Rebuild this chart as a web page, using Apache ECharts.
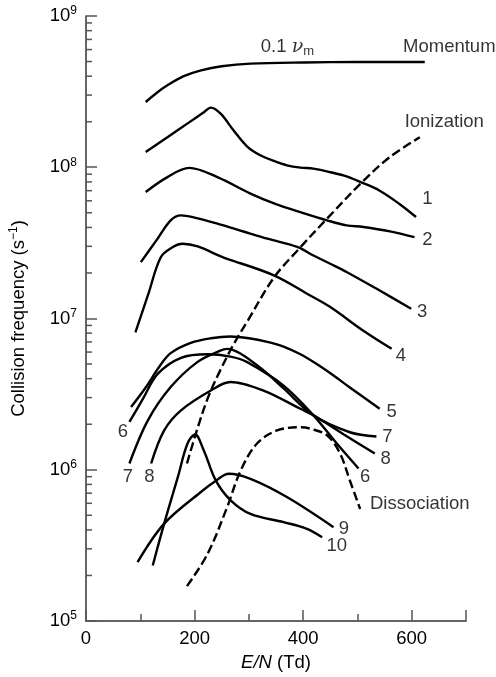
<!DOCTYPE html>
<html>
<head>
<meta charset="utf-8">
<script src="https://cdn.jsdelivr.net/npm/echarts@6/dist/echarts.min.js"></script>
<style>
  html, body { margin: 0; padding: 0; background: #fff; }
  #chart { width: 496px; height: 677px; }
</style>
</head>
<body>
<div id="chart"></div>
<script>
// ===== data: [E/N (Td), collision frequency (s^-1)] =====
var momentum = [[110,2.7e8],[130,3.1e8],[150,3.48e8],[180,4.0e8],[212,4.37e8],[250,4.65e8],[303,4.84e8],[400,4.93e8],[500,4.96e8],[624,4.96e8]];
var curve1 = [[110,1.26e8],[150,1.58e8],[190,1.98e8],[215,2.28e8],[230,2.48e8],[248,2.26e8],[272,1.75e8],[297,1.37e8],[321,1.2e8],[346,1.1e8],[370,1.03e8],[395,9.94e7],[419,9.8e7],[450,9.27e7],[480,8.7e7],[505,8.0e7],[541,7.0e7],[578,5.7e7],[608,4.69e7]];
var curve2 = [[110,6.86e7],[150,8.6e7],[190,9.9e7],[242,8.6e7],[303,6.7e7],[350,5.7e7],[395,5.05e7],[444,4.46e7],[480,4.13e7],[511,4.03e7],[560,3.77e7],[605,3.45e7]];
var curve3 = [[101,2.36e7],[130,3.3e7],[156,4.46e7],[175,4.81e7],[200,4.65e7],[242,4.24e7],[290,3.76e7],[334,3.37e7],[389,2.97e7],[419,2.61e7],[450,2.3e7],[480,2.03e7],[541,1.53e7],[599,1.16e7]];
var curve4 = [[91,8.1e6],[115,1.46e7],[138,2.55e7],[160,2.97e7],[178,3.12e7],[260,2.48e7],[346,1.93e7],[413,1.42e7],[450,1.19e7],[511,8.3e6],[563,6.3e6]];
var curve5 = [[83,2.6e6],[110,3.5e6],[135,4.8e6],[156,5.9e6],[193,6.9e6],[230,7.4e6],[266,7.6e6],[300,7.4e6],[334,7.0e6],[365,6.5e6],[395,5.8e6],[425,5.0e6],[456,4.2e6],[486,3.5e6],[541,2.53e6]];
var curve6 = [[80,2.07e6],[105,2.95e6],[132,4.3e6],[175,5.5e6],[224,5.8e6],[266,5.6e6],[297,5.15e6],[364,3.6e6],[419,2.29e6],[462,1.49e6],[502,1.02e6]];
var curve7 = [[80,1.1e6],[114,2.12e6],[156,3.52e6],[205,5.15e6],[245,6.08e6],[260,6.3e6],[285,5.85e6],[327,4.54e6],[364,3.45e6],[419,2.29e6],[486,1.77e6],[535,1.66e6]];
var curve8 = [[120,1.1e6],[144,1.82e6],[175,2.47e6],[230,3.34e6],[266,3.8e6],[327,3.34e6],[395,2.53e6],[419,2.29e6],[475,1.71e6],[532,1.28e6]];
var curve9 = [[95,2.45e5],[144,4.4e5],[211,7.1e5],[240,8.5e5],[263,9.4e5],[303,8.7e5],[370,6.6e5],[456,4.17e5]];
var curve10 = [[123,2.33e5],[144,4.4e5],[169,8.9e5],[187,1.49e6],[201,1.71e6],[217,1.34e6],[239,8.5e5],[266,6.3e5],[303,5.1e5],[364,4.5e5],[407,4.07e5],[435,3.58e5]];
var ionization = [[186,1.1e6],[205,1.86e6],[224,2.95e6],[245,4.37e6],[272,6.76e6],[297,9.55e6],[346,1.86e7],[392,2.88e7],[444,4.57e7],[508,7.94e7],[560,1.17e8],[615,1.58e8]];
var dissociation = [[186,1.7e5],[224,2.78e5],[260,5.66e5],[285,9.9e5],[315,1.49e6],[352,1.82e6],[395,1.91e6],[413,1.87e6],[444,1.69e6],[468,1.28e6],[486,8.5e5],[505,5.5e5]];

// text labels in the plot, anchored in data units
var curveNumbers = [
    ['1', 629, 6.2e7], ['2', 629, 3.29e7], ['3', 619, 1.1e7], ['4', 580, 5.7e6],
    ['5', 563, 2.4e6], ['7', 555, 1.64e6], ['8', 552, 1.18e6], ['6', 514, 8.9e5],
    ['9', 475, 4.07e5], ['10', 462, 3.16e5],
    ['6', 68, 1.77e6], ['7', 77, 8.9e5], ['8', 117, 8.9e5]
];
var curveNames = [
    ['Momentum', 584, 6.2e8], ['Ionization', 587, 1.99e8], ['Dissociation', 523, 5.96e5]
];

var xTicks = [0, 200, 400, 600];
var decades = [5, 6, 7, 8, 9];

// minor ticks of the log axis at 2..9 of every decade
var yMinorTicks = [];
for (var d = 5; d < 9; d++) {
    for (var m = 2; m <= 9; m++) {
        yMinorTicks.push([0, m * Math.pow(10, d)]);
    }
}

var FONT = '"Liberation Sans", Arial, Helvetica, sans-serif';

function curveSeries(data, dashed) {
    return {
        type: 'line',
        data: data,
        showSymbol: false,
        smooth: 0.35,
        silent: true,
        lineStyle: { color: '#000', width: 2.4, type: dashed ? [9, 4] : 'solid' }
    };
}

var series = [momentum, curve1, curve2, curve3, curve4, curve5, curve6, curve7, curve8, curve9, curve10].map(function (c) {
    return curveSeries(c, false);
});
series.push(curveSeries(ionization, true));
series.push(curveSeries(dissociation, true));

// numbers next to the curves
series.push({
    type: 'scatter',
    symbolSize: 0,
    silent: true,
    data: curveNumbers.map(function (t) { return { name: t[0], value: [t[1], t[2]] }; }),
    label: { show: true, position: 'inside', formatter: '{b}', color: '#000', fontSize: 18.5, fontFamily: FONT }
});
// names of the curves
series.push({
    type: 'scatter',
    symbolSize: 0,
    silent: true,
    data: curveNames.map(function (t) { return { name: t[0], value: [t[1], t[2]] }; }),
    label: { show: true, position: 'inside', align: 'left', formatter: '{b}', color: '#000', fontSize: 18.5, fontFamily: FONT }
});
// 0.1 nu_m
series.push({
    type: 'scatter',
    symbolSize: 0,
    silent: true,
    data: [{ name: 'nu', value: [322, 6.2e8] }],
    label: {
        show: true, position: 'inside', align: 'left', color: '#000',
        formatter: '{a|0.1 }{n|ν}{m|m}',
        rich: {
            a: { fontSize: 18.5, fontFamily: FONT, color: '#000' },
            n: { fontSize: 19, fontFamily: '"DejaVu Serif", serif', fontStyle: 'italic', color: '#000' },
            m: { fontSize: 13, fontFamily: FONT, color: '#000', verticalAlign: 'bottom', padding: [8, 0, 0, 0] }
        }
    }
});
// minor ticks on the log axis
series.push({
    type: 'custom',
    silent: true,
    data: yMinorTicks,
    renderItem: function (params, api) {
        var p = api.coord([api.value(0), api.value(1)]);
        return {
            type: 'line',
            shape: { x1: p[0], y1: p[1], x2: p[0] + 6, y2: p[1] },
            style: { stroke: '#555', lineWidth: 1.5 }
        };
    }
});

var myChart = echarts.init(document.getElementById('chart'));
var option = {
    animation: false,
    backgroundColor: '#fff',
    textStyle: { fontFamily: FONT },
    grid: { left: 86, right: 30, top: 16, bottom: 56 },
    xAxis: {
        type: 'value',
        min: 0,
        max: 700,
        interval: 200,
        splitLine: { show: false },
        axisLine: { lineStyle: { color: '#333', width: 1.5 } },
        axisTick: { inside: true, length: 11, lineStyle: { color: '#555', width: 1.5 } },
        minorTick: { show: true, splitNumber: 2, length: 7, lineStyle: { color: '#555', width: 1.5 } },
        axisLabel: {
            color: '#000', fontSize: 18.5, margin: 8, showMaxLabel: false,
            formatter: function (v) { return xTicks.indexOf(v) >= 0 ? String(v) : ''; }
        },
        name: '{i|E/N} (Td)',
        nameLocation: 'middle',
        nameGap: 32,
        nameTextStyle: {
            color: '#000', fontSize: 18.5,
            rich: { i: { fontStyle: 'italic', fontSize: 18.5, color: '#000' } }
        }
    },
    yAxis: {
        type: 'log',
        logBase: 10,
        min: 1e5,
        max: 1e9,
        splitLine: { show: false },
        axisLine: { lineStyle: { color: '#333', width: 1.5 } },
        axisTick: { inside: true, length: 11, lineStyle: { color: '#555', width: 1.5 } },
        axisLabel: {
            color: '#000', margin: 9,
            formatter: function (v) {
                var e = Math.round(Math.log(v) / Math.LN10);
                return decades.indexOf(e) >= 0 ? '{a|10}{b|' + e + '}' : '';
            },
            rich: {
                a: { fontSize: 18.5, color: '#000' },
                b: { fontSize: 12, color: '#000', verticalAlign: 'top', padding: [0, 0, 10, 0] }
            }
        },
        name: '{t|Collision frequency (s}{s|−1}{t|)}',
        nameLocation: 'middle',
        nameGap: 56,
        nameRotate: 90,
        nameTextStyle: {
            rich: {
                t: { fontSize: 18.5, color: '#000' },
                s: { fontSize: 12, color: '#000', verticalAlign: 'top', padding: [0, 0, 10, 0] }
            }
        }
    },
    series: series
};
myChart.setOption(option);
</script>
</body>
</html>
